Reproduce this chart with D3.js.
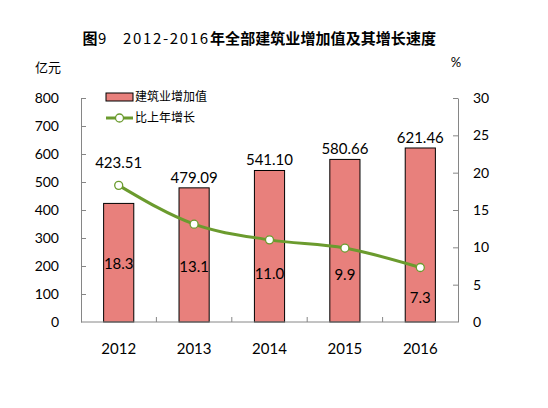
<!DOCTYPE html>
<html>
<head>
<meta charset="utf-8">
<title>图9</title>
<script src="https://cdn.jsdelivr.net/npm/d3@7"></script>
<style>
body { margin:0; background:#fff; }
svg text { font-family: Lato, "Noto Sans CJK SC", sans-serif; fill:#000; }
.cjk { font-family: "Noto Sans CJK SC", sans-serif; }
.axis path, .axis line { stroke:#868686; }
</style>
</head>
<body>
<svg id="chart" width="548" height="408"></svg>
<script>
// data
var years   = ['2012','2013','2014','2015','2016'];
var added   = [423.51, 479.09, 541.10, 580.66, 621.46];   // 亿元
var growth  = [18.3, 13.1, 11.0, 9.9, 7.3];               // %
var leftTicks  = [0,100,200,300,400,500,600,700,800];
var rightTicks = [0,5,10,15,20,25,30];
// where the growth labels sit, in px below each line point (hand placed in the original)
var growthDy = [78, 42, 34, 27, 30];

var svg = d3.select('#chart');
var m = {l:81, r:458, t:98, b:322};

var x = d3.scaleBand().domain(years).range([m.l, m.r]).paddingInner(0.6).paddingOuter(0.3);
var band = d3.scaleBand().domain(years).range([m.l, m.r]);
var yL = d3.scaleLinear().domain([0,800]).range([m.b, m.t]);
var yR = d3.scaleLinear().domain([0,30]).range([m.b, m.t]);

// title, pieces placed like the original (mixed fonts)
var title = svg.append('text').attr('class','cjk').attr('y', 44).style('font-size','15px');
title.append('tspan').attr('x', 82.5).style('font-weight','bold').text('图');
title.append('tspan').attr('x', 98).style('font-weight','normal').text('9');
title.append('tspan').attr('x', 123).attr('textLength', 85).attr('lengthAdjust','spacing')
  .style('font-weight','normal').text('2012-2016');
title.append('tspan').attr('x', 210).attr('textLength', 226).attr('lengthAdjust','spacing')
  .style('font-weight','bold').text('年全部建筑业增加值及其增长速度');

svg.append('text').attr('class','cjk').attr('x', 48).attr('y', 72).attr('text-anchor','middle')
  .style('font-size','13px').text('亿元');
svg.append('text').attr('x', 456).attr('y', 67).attr('text-anchor','middle')
  .style('font-size','13px').text('%');

// axes
var gl = svg.append('g').attr('class','axis').attr('transform','translate('+m.l+',0)')
  .call(d3.axisRight(yL).tickValues(leftTicks).tickSize(5).tickSizeOuter(0));
gl.selectAll('text').remove();
var gr = svg.append('g').attr('class','axis').attr('transform','translate('+m.r+',0)')
  .call(d3.axisLeft(yR).tickValues(rightTicks).tickSize(5).tickSizeOuter(0));
gr.selectAll('text').remove();
gl.selectAll('.tick').filter(function(d){return d===0;}).remove();
gr.selectAll('.tick').filter(function(d){return d===0;}).remove();

svg.append('g').selectAll('text').data(leftTicks).join('text')
  .attr('x', m.l - 22).attr('y', function(d){return yL(d);}).attr('dy','0.36em')
  .attr('text-anchor','end').style('font-size','14px').text(function(d){return d;});
svg.append('g').selectAll('text').data(rightTicks).join('text')
  .attr('x', m.r + 15).attr('y', function(d){return yR(d);}).attr('dy','0.36em')
  .attr('text-anchor','start').style('font-size','14px').text(function(d){return d;});

// bars
svg.append('g').selectAll('rect').data(added).join('rect')
  .attr('x', function(d,i){return x(years[i]);})
  .attr('width', x.bandwidth())
  .attr('y', function(d){return yL(d);})
  .attr('height', function(d){return yL(0) - yL(d);})
  .attr('fill','#E8807C').attr('stroke','#000').attr('stroke-width',1);

// x axis
var gx = svg.append('g').attr('class','axis').attr('transform','translate(0,'+m.b+')');
gx.append('line').attr('x1', m.l).attr('x2', m.r).attr('stroke','#868686');
gx.selectAll('.sep').data(years.slice(1)).join('line').attr('class','sep')
  .attr('x1', function(d){return band(d);}).attr('x2', function(d){return band(d);})
  .attr('y1', 0).attr('y2', -5).attr('stroke','#868686');
svg.append('g').selectAll('text').data(years).join('text')
  .attr('x', function(d){return band(d) + band.bandwidth()/2;}).attr('y', m.b + 32)
  .attr('text-anchor','middle').style('font-size','15px').text(function(d){return d;});

// line
var cx = function(i){return band(years[i]) + band.bandwidth()/2;};
svg.append('path').datum(growth)
  .attr('d', d3.line().x(function(d,i){return cx(i);}).y(function(d){return yR(d);}).curve(d3.curveMonotoneX))
  .attr('fill','none').attr('stroke','#6B9B2E').attr('stroke-width',3);
svg.append('g').selectAll('circle').data(growth).join('circle')
  .attr('cx', function(d,i){return cx(i);}).attr('cy', function(d){return yR(d);})
  .attr('r', 4).attr('fill','#fff').attr('stroke','#6B9B2E').attr('stroke-width',1.3);

// value labels above bars (pushed above the line where it crosses)
svg.append('g').selectAll('text').data(added).join('text')
  .attr('x', function(d,i){return cx(i);})
  .attr('y', function(d,i){return Math.min(yL(d), yR(growth[i]) - 12) - 5;})
  .attr('text-anchor','middle').style('font-size','15px').text(function(d){return d.toFixed(2);});

svg.append('g').selectAll('text').data(growth).join('text')
  .attr('x', function(d,i){return cx(i);})
  .attr('y', function(d,i){return yR(d) + growthDy[i];}).attr('dy','0.36em')
  .attr('text-anchor','middle').style('font-size','15px').text(function(d){return d.toFixed(1);});

// legend
var lg = svg.append('g');
lg.append('rect').attr('x',106).attr('y',93).attr('width',27).attr('height',8)
  .attr('fill','#E8807C').attr('stroke','#000').attr('stroke-width',1);
lg.append('text').attr('class','cjk').attr('x',135).attr('y',97).attr('dy','0.36em')
  .style('font-size','12px').text('建筑业增加值');
lg.append('line').attr('x1',106).attr('x2',133).attr('y1',118).attr('y2',118)
  .attr('stroke','#6B9B2E').attr('stroke-width',3);
lg.append('circle').attr('cx',119.5).attr('cy',118).attr('r',4)
  .attr('fill','#fff').attr('stroke','#6B9B2E').attr('stroke-width',1.3);
lg.append('text').attr('class','cjk').attr('x',135).attr('y',118).attr('dy','0.36em')
  .style('font-size','12px').text('比上年增长');
</script>
</body>
</html>
